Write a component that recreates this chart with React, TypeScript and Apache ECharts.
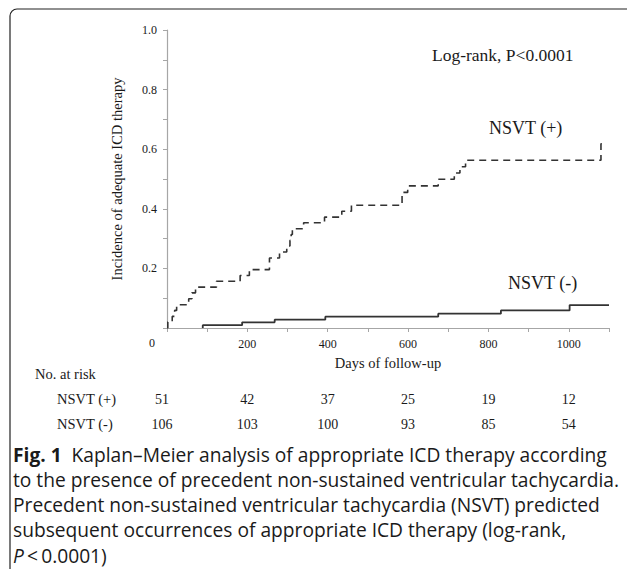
import React, { useEffect, useRef } from "react";
import * as echarts from "echarts";

// Kaplan–Meier cumulative incidence, NSVT (+)
const nsvtPosDays = [0, 2, 13, 19, 24, 54, 62, 71, 123, 182, 205, 255, 280, 298, 306, 309, 312, 340, 392, 435, 459, 585, 599, 675, 715, 729, 743, 1080, 1089];
const nsvtPosInc = [0, 0.02, 0.039, 0.059, 0.078, 0.098, 0.118, 0.137, 0.157, 0.176, 0.196, 0.235, 0.255, 0.275, 0.294, 0.314, 0.333, 0.353, 0.372, 0.392, 0.412, 0.455, 0.477, 0.499, 0.52, 0.541, 0.563, 0.618, 0.618];

// NSVT (-)
const nsvtNegDays = [89, 89, 187, 268, 394, 675, 831, 1002, 1100];
const nsvtNegInc = [0, 0.0094, 0.019, 0.028, 0.038, 0.048, 0.059, 0.077, 0.077];

// Number at risk table
const riskTimes = [0, 200, 400, 600, 800, 1000];
const riskPos = [51, 42, 37, 25, 19, 12];
const riskNeg = [106, 103, 100, 93, 85, 54];

const captionLines = [
  "{b|Fig. 1}  Kaplan–Meier analysis of appropriate ICD therapy according",
  "to the presence of precedent non-sustained ventricular tachycardia.",
  "Precedent non-sustained ventricular tachycardia (NSVT) predicted",
  "subsequent occurrences of appropriate ICD therapy (log-rank,",
  "{i|P}\u2009<\u20090.0001)",
];

const SERIF = "'Liberation Serif', 'Times New Roman', serif";
const SANS = "'Open Sans', 'Noto Sans', sans-serif";

export default function App() {
  const ref = useRef<HTMLDivElement>(null);
  useEffect(() => {
    if (!ref.current) return;
    const chart = echarts.init(ref.current, null, { renderer: "svg" });
    const axisGrey = "#a6a6a6";
    const ink = "#1a1a1a";
    const curve = "#333333";
    chart.setOption({
      animation: false,
      backgroundColor: "#ffffff",
      grid: { left: 167, right: 18, top: 30, bottom: 241, containLabel: false },
      xAxis: {
        type: "value",
        min: 0,
        max: 1100,
        interval: 100,
        name: "Days of follow-up",
        nameLocation: "middle",
        nameGap: 27,
        nameTextStyle: { fontFamily: SERIF, fontSize: 14.5, color: ink },
        axisLine: { lineStyle: { color: axisGrey, width: 1.2 } },
        axisTick: { show: true, inside: false, length: 4, lineStyle: { color: axisGrey } },
        axisLabel: {
          fontFamily: SERIF,
          fontSize: 12,
          color: ink,
          margin: 10,
          formatter: (v: number) => (v > 0 && v % 200 === 0 ? String(v) : ""),
        },
        splitLine: { show: false },
      },
      yAxis: {
        type: "value",
        min: 0,
        max: 1,
        interval: 0.1,
        name: "Incidence of adequate ICD therapy",
        nameLocation: "middle",
        nameRotate: 90,
        nameGap: 43,
        nameTextStyle: { fontFamily: SERIF, fontSize: 14.5, color: ink },
        axisLine: { show: true, lineStyle: { color: axisGrey, width: 1.2 } },
        axisTick: { show: true, inside: false, length: 4, lineStyle: { color: axisGrey } },
        axisLabel: {
          fontFamily: SERIF,
          fontSize: 12,
          color: ink,
          margin: 10,
          formatter: (v: number) => {
            const k = Math.round(v * 10);
            return k > 0 && k % 2 === 0 ? (k / 10).toFixed(1) : "";
          },
        },
        splitLine: { show: false },
      },
      series: [
        {
          name: "NSVT (+)",
          type: "line",
          step: "end",
          symbol: "none",
          lineStyle: { color: curve, width: 1.6, type: [7, 5] },
          data: nsvtPosDays.map((d, i) => [d, nsvtPosInc[i]]),
        },
        {
          name: "NSVT (-)",
          type: "line",
          step: "end",
          symbol: "none",
          lineStyle: { color: curve, width: 1.8 },
          data: nsvtNegDays.map((d, i) => [d, nsvtNegInc[i]]),
        },
      ],
    });

    const px = (t: number) => chart.convertToPixel({ xAxisIndex: 0 }, t) as number;
    const txt = (text: string, x: number, y: number, size: number, align = "left", extra: any = {}) => ({
      type: "text",
      x,
      y,
      silent: true,
      style: { text, font: `${size}px ${SERIF}`, fill: ink, align, verticalAlign: "middle", ...extra },
    });

    const graphics: any[] = [
      {
        type: "rect",
        shape: { x: 10, y: 9, width: 700, height: 700, r: [7, 0, 0, 0] },
        style: { fill: "none", stroke: "#222", lineWidth: 1.2 },
        silent: true,
      },
      txt("0", px(0) - 15, 343, 12, "center"),
      txt("Log-rank, P<0.0001", 432, 55, 17.5),
      txt("NSVT (+)", 489, 128, 18),
      txt("NSVT (-)", 508, 283, 18),
      txt("No. at risk", 35, 374, 14.5),
      txt("NSVT (+)", 57, 399, 14.5),
      txt("NSVT (-)", 57, 424, 14.5),
    ];
    riskTimes.forEach((t, i) => {
      const x = px(t) + (t === 0 ? -5 : 0);
      graphics.push(txt(String(riskPos[i]), x, 399, 14, "center"));
      graphics.push(txt(String(riskNeg[i]), x, 424, 14, "center"));
    });
    const cap = 19.2;
    captionLines.forEach((line, i) => {
      graphics.push({
        type: "text",
        x: 13,
        y: 454 + i * 25.3,
        silent: true,
        style: {
          text: line,
          font: `${cap}px ${SANS}`,
          fill: "#1a1a1a",
          verticalAlign: "middle",
          rich: {
            b: { fontWeight: "bold", fontSize: cap, fontFamily: SANS, fill: "#1a1a1a" },
            i: { fontStyle: "italic", fontSize: cap, fontFamily: SANS, fill: "#1a1a1a" },
          },
        },
      });
    });
    chart.setOption({ graphic: graphics });
    return () => chart.dispose();
  }, []);
  return (
    <div
      ref={ref}
      style={{ position: "absolute", left: 0, top: 0, width: 627, height: 569 }}
    />
  );
}
